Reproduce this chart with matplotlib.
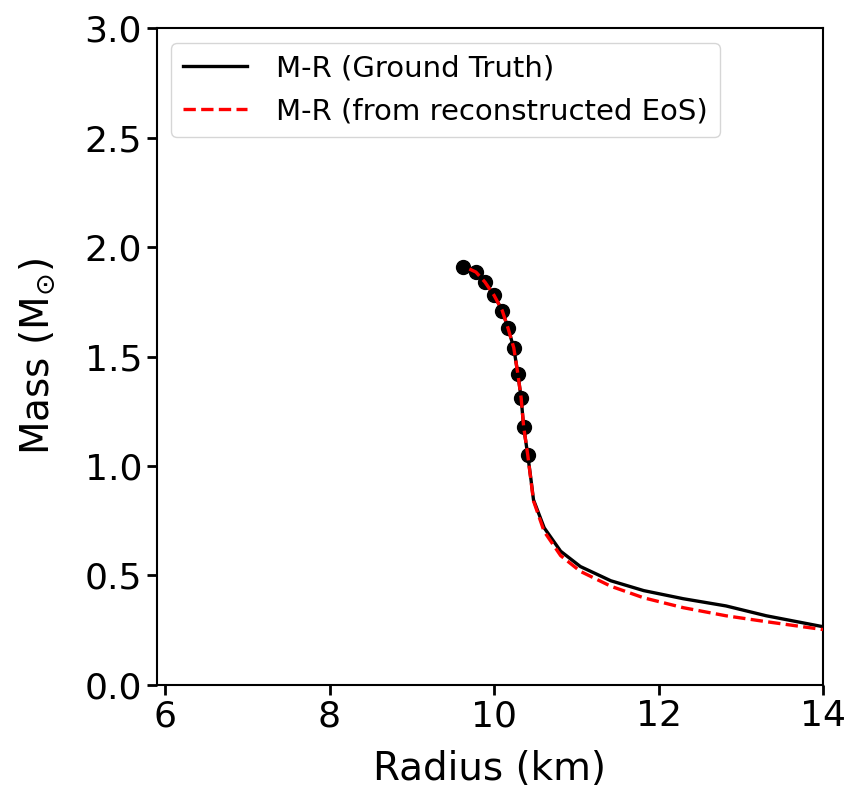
import matplotlib
matplotlib.use('Agg')
import matplotlib.pyplot as plt

# ground truth M-R curve (km, Msun)
r_true = [9.62, 9.78, 9.89, 10.0, 10.10, 10.17, 10.24, 10.29, 10.33, 10.36, 10.41,
          10.45, 10.48, 10.61, 10.81, 11.05, 11.42, 11.82, 12.30, 12.82, 13.31, 14.0]
m_true = [1.91, 1.886, 1.84, 1.78, 1.71, 1.63, 1.54, 1.42, 1.31, 1.18, 1.05,
          0.936, 0.845, 0.717, 0.61, 0.54, 0.475, 0.43, 0.393, 0.36, 0.315, 0.265]

# M-R from reconstructed EoS
r_rec = [9.70, 9.78, 9.89, 10.0, 10.10, 10.17, 10.24, 10.29, 10.33, 10.36, 10.41,
         10.45, 10.48, 10.61, 10.81, 11.05, 11.42, 11.82, 12.30, 12.82, 13.31, 14.0]
m_rec = [1.90, 1.886, 1.84, 1.78, 1.71, 1.63, 1.54, 1.42, 1.31, 1.18, 1.05,
         0.93, 0.84, 0.70, 0.59, 0.518, 0.45, 0.397, 0.352, 0.315, 0.288, 0.252]

# observed points
r_obs = [9.62, 9.78, 9.89, 10.0, 10.10, 10.17, 10.24, 10.29, 10.33, 10.36, 10.41]
m_obs = [1.91, 1.886, 1.84, 1.78, 1.71, 1.63, 1.54, 1.42, 1.31, 1.18, 1.05]

fig = plt.figure(figsize=(8.52, 7.87), dpi=100)
ax = fig.add_axes([0.184, 0.130, 0.782, 0.834])

ax.plot(r_true, m_true, color='k', linewidth=2.4, label='M-R (Ground Truth)', zorder=2)
ax.plot(r_obs, m_obs, 'o', color='k', markersize=10, zorder=3)
ax.plot(r_rec, m_rec, color='red', linestyle='--', linewidth=2.4,
        label='M-R (from reconstructed EoS)', zorder=4)

ax.set_xlim(5.9, 14)
ax.set_ylim(0, 3)
ax.set_xticks([6, 8, 10, 12, 14])
ax.set_yticks([0.0, 0.5, 1.0, 1.5, 2.0, 2.5, 3.0])
ax.tick_params(labelsize=26, width=2, length=7)
for s in ax.spines.values():
    s.set_linewidth(1.5)

ax.set_xlabel('Radius (km)', fontsize=28, labelpad=12)
ax.set_ylabel(r'Mass (M$_{\odot}$)', fontsize=28, labelpad=20)
ax.legend(loc='upper left', fontsize=21, handlelength=2.2, handletextpad=1.0)

plt.savefig('out.png', dpi=100)
